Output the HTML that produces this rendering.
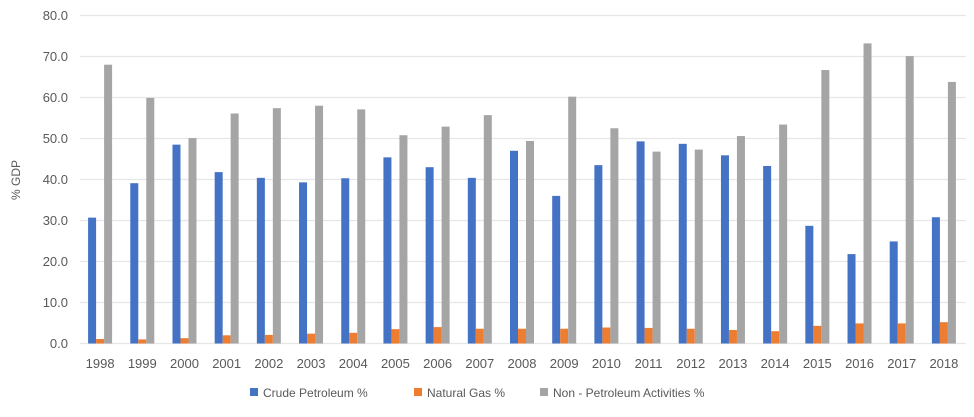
<!DOCTYPE html>
<html><head><meta charset="utf-8"><style>
body{margin:0;background:#fff;font-family:"Liberation Sans",sans-serif;}
svg text{font-family:"Liberation Sans",sans-serif;fill:#595959;}
</style></head><body>
<svg id="c" width="974" height="412">
<g id="grid"></g>
<g id="yt"></g>
<g id="xt"></g>
<g id="bars"></g>
<text transform="translate(20,180) rotate(-90)" text-anchor="middle" font-size="12">% GDP</text>
<g>
<g><rect x="250" y="388" width="8" height="8" fill="#4472c4"/><text x="263" y="397" font-size="12">Crude Petroleum %</text></g>
<g><rect x="414" y="388" width="8" height="8" fill="#ed7d31"/><text x="427" y="397" font-size="12">Natural Gas %</text></g>
<g><rect x="540" y="388" width="8" height="8" fill="#a5a5a5"/><text x="553" y="397" font-size="12">Non - Petroleum Activities %</text></g>
</g>
</svg>
<script>
const categories=["1998","1999","2000","2001","2002","2003","2004","2005","2006","2007","2008","2009","2010","2011","2012","2013","2014","2015","2016","2017","2018"];
const crude=[30.7,39.1,48.5,41.8,40.4,39.3,40.3,45.4,43.0,40.4,47.0,36.0,43.5,49.3,48.7,45.9,43.3,28.7,21.8,24.9,30.8];
const gas=[1.1,1.0,1.3,2.0,2.1,2.4,2.6,3.5,4.0,3.6,3.6,3.6,3.9,3.8,3.6,3.3,3.0,4.3,4.9,4.9,5.2];
const nonPet=[68.0,59.9,50.1,56.1,57.4,58.0,57.1,50.8,52.9,55.7,49.4,60.2,52.5,46.8,47.3,50.6,53.4,66.7,73.2,70.1,63.8];
const yTicks=[0,10,20,30,40,50,60,70,80];
const NS="http://www.w3.org/2000/svg";
const L=80,R=966,T=15.5,B=343.5;
const y=v=>B-(v/80)*(B-T);
const bw=(R-L)/categories.length;
const x=i=>L+bw*i+bw/2;
function mk(t,a,p){const e=document.createElementNS(NS,t);for(const k in a)e.setAttribute(k,a[k]);p.appendChild(e);return e;}
const grid=document.getElementById('grid'),yt=document.getElementById('yt'),xt=document.getElementById('xt'),bars=document.getElementById('bars');
yTicks.forEach(v=>{
 const l=mk('line',{x1:L,x2:R,y1:y(v),y2:y(v),stroke:'#e6e6e6','stroke-width':1.3},grid);
 
 
 const t=mk('text',{x:68,y:y(v)+4.5,'text-anchor':'end','font-size':13},yt);
 t.textContent=v.toFixed(1);
 
 
});
const series=[[crude,'#4472c4','crude'],[gas,'#ed7d31','gas'],[nonPet,'#a5a5a5','non-petroleum']];
const w=8;
categories.forEach((c,i)=>{
 const t=mk('text',{x:x(i)-1,y:368,'text-anchor':'middle','font-size':13},xt);
 t.textContent=c;
 
 
 series.forEach((s,j)=>{
  const v=s[0][i];
  const r=mk('rect',{x:x(i)-1-12+j*w,y:y(v),width:w,height:B-y(v),fill:s[1]},bars);
  
  
 });
});
</script>
</body></html>
